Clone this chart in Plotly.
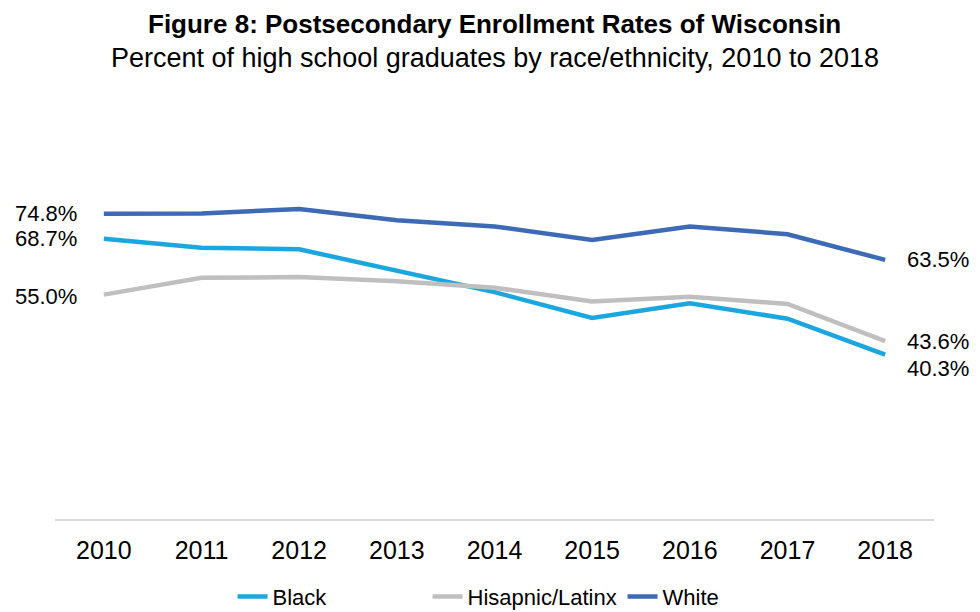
import plotly.graph_objects as go

years = ["2010", "2011", "2012", "2013", "2014", "2015", "2016", "2017", "2018"]
black = [68.7, 66.5, 66.1, 60.9, 55.6, 49.3, 52.9, 49.1, 40.3]
hispanic = [55.0, 59.1, 59.3, 58.3, 56.7, 53.3, 54.5, 52.7, 43.6]
white = [74.8, 74.9, 76.0, 73.2, 71.7, 68.4, 71.7, 69.8, 63.5]

series = [
    ("Black", black, "#1BA6DF"),
    ("Hisapnic/Latinx", hispanic, "#BFBFBF"),
    ("White", white, "#3D6AB5"),
]

FONT = "Liberation Sans, Arial, sans-serif"

fig = go.Figure()
for name, vals, color in series:
    fig.add_trace(go.Scatter(
        x=years, y=vals, name=name, mode="lines",
        line=dict(color=color, width=4.5),
        hoverinfo="skip",
    ))

annotations = []
first, last = 0, len(years) - 1
# start labels
for vals, ys in [(white, 0), (black, 0), (hispanic, -2)]:
    annotations.append(dict(
        x=first, y=vals[0], xref="x", yref="y",
        text=f"{vals[0]:.1f}%", showarrow=False,
        xanchor="right", yanchor="middle", xshift=-25, yshift=ys,
        font=dict(family=FONT, size=22, color="#000000"),
    ))
# end labels
for vals, ys in [(white, 0), (hispanic, 0), (black, -14)]:
    annotations.append(dict(
        x=last, y=vals[-1], xref="x", yref="y",
        text=f"{vals[-1]:.1f}%", showarrow=False,
        xanchor="left", yanchor="middle", xshift=20, yshift=ys,
        font=dict(family=FONT, size=22, color="#000000"),
    ))

# title and subtitle
annotations.append(dict(
    x=0.5, y=1.213, xref="paper", yref="paper", xanchor="center", yanchor="middle",
    text="<b>Figure 8: Postsecondary Enrollment Rates of Wisconsin</b>",
    showarrow=False, font=dict(family=FONT, size=26, color="#000000"),
))
annotations.append(dict(
    x=0.5, y=1.13, xref="paper", yref="paper", xanchor="center", yanchor="middle",
    text="Percent of high school graduates by race/ethnicity, 2010 to 2018",
    showarrow=False, font=dict(family=FONT, size=27, color="#000000"),
))

fig.update_layout(
    width=980, height=612,
    margin=dict(l=55, r=46, t=111, b=93, autoexpand=False),
    paper_bgcolor="white", plot_bgcolor="white",
    xaxis=dict(
        type="category", range=[-0.5, 8.5], showgrid=False,
        showline=True, linecolor="#D9D9D9", linewidth=1.5,
        ticks="", ticklabelstandoff=8, automargin=False,
        tickfont=dict(family=FONT, size=25, color="#000000"),
        fixedrange=True,
    ),
    yaxis=dict(
        range=[0, 100], visible=True, showticklabels=False, showline=False,
        showgrid=False, zeroline=False, ticks="", automargin=False,
        fixedrange=True,
    ),
    legend=dict(
        orientation="h", x=0.202, xanchor="left",
        yref="container", y=0.025, yanchor="middle",
        font=dict(family=FONT, size=22, color="#000000"),
        traceorder="normal", entrywidth=150, entrywidthmode="pixels",
    ),
    annotations=annotations,
    showlegend=True,
)

fig.write_html(
    "out.html",
    config={"displayModeBar": False},
    post_script="document.body.style.margin='0';document.body.style.overflow='hidden';",
)
